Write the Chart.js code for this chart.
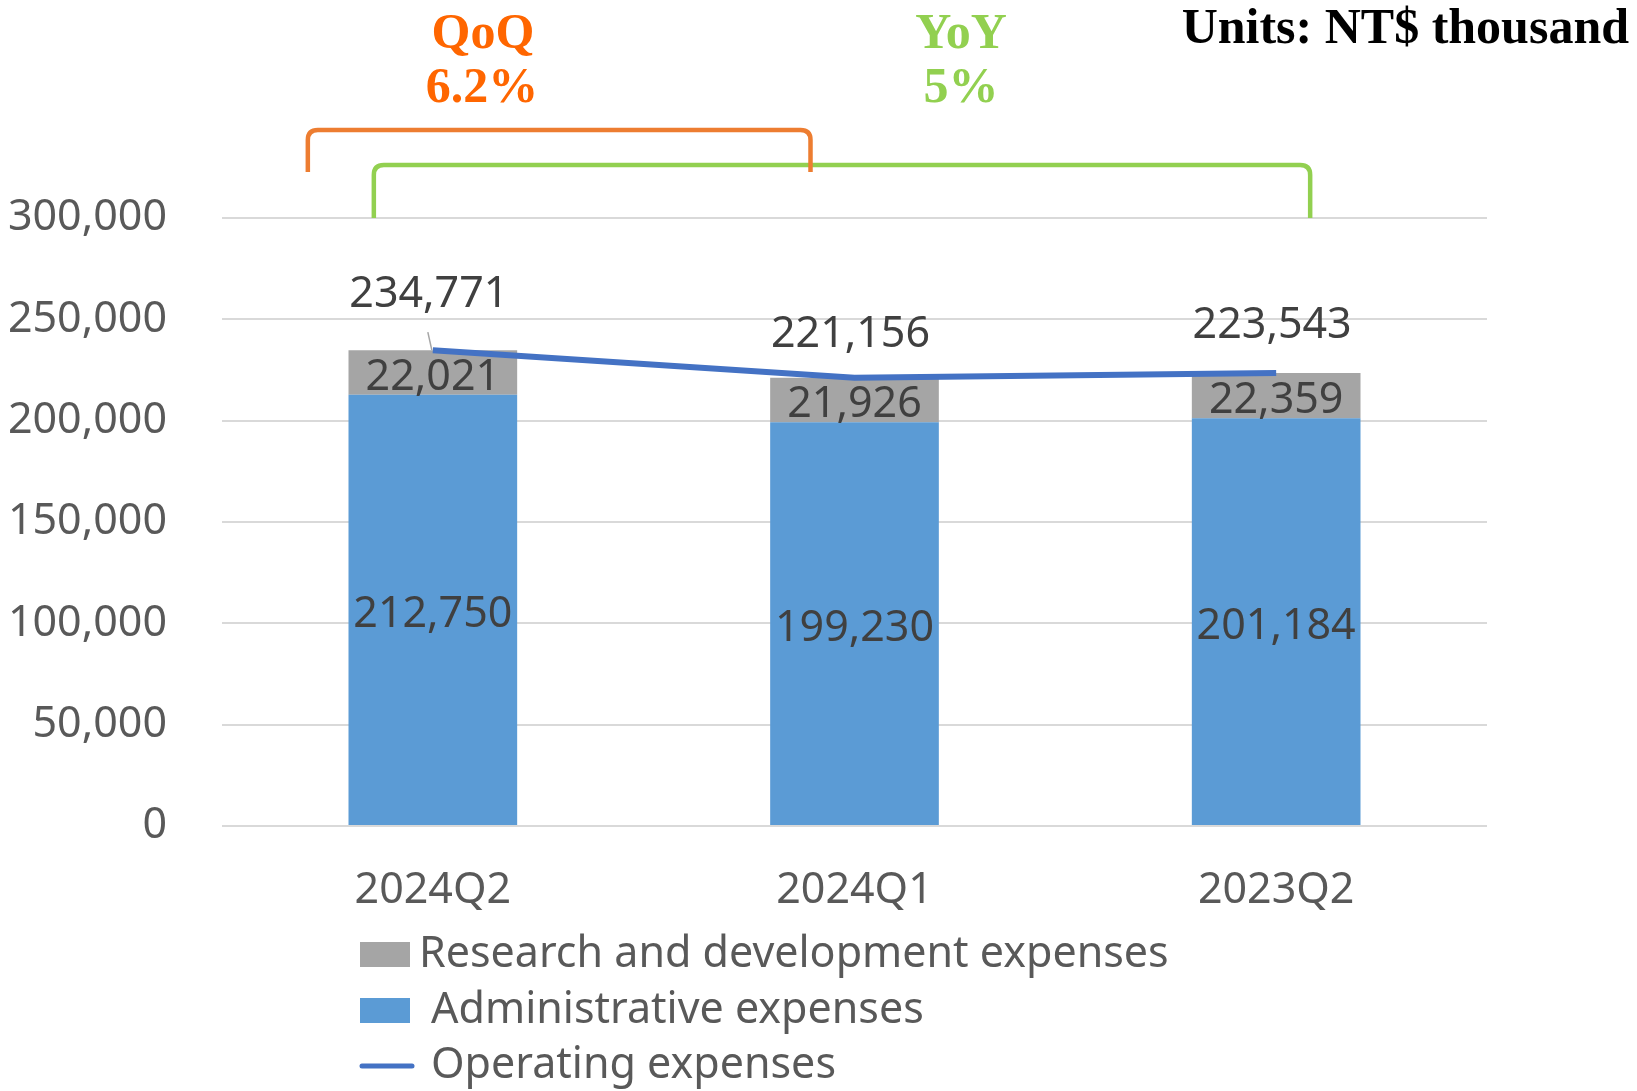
<!DOCTYPE html>
<html>
<head>
<meta charset="utf-8">
<script src="https://cdn.jsdelivr.net/npm/chart.js@4/dist/chart.umd.min.js"></script>
<style>
  html, body { margin: 0; padding: 0; background: #fff; }
</style>
</head>
<body>
<canvas id="chart" width="1637" height="1091"></canvas>
<script>
// values (NT$ thousand)
const quarters = ['2024Q2', '2024Q1', '2023Q2'];
const adminExpenses = [212750, 199230, 201184];
const rdExpenses = [22021, 21926, 22359];
const operatingExpenses = [234771, 221156, 223543];
const seriesNames = ['Research and development expenses', 'Administrative expenses', 'Operating expenses'];
const qoqText = ['QoQ', '6.2%'];
const yoyText = ['YoY', '5%'];
const unitsText = 'Units: NT$ thousand';

const SANS = '"Noto Sans", sans-serif';
const SERIF = '"Liberation Serif", serif';
const fmt = (v) => v.toLocaleString('en-US');

// lift of the line labels above their points (label was nudged in the original)
const lineLabelLift = [43, 31, 35];

const labelsPlugin = {
  id: 'valueLabels',
  afterDatasetsDraw(chart) {
    const { ctx } = chart;
    ctx.save();
    ctx.font = `43px ${SANS}`;
    ctx.fillStyle = '#404040';
    ctx.textAlign = 'center';
    chart.data.datasets.forEach((ds, di) => {
      const meta = chart.getDatasetMeta(di);
      meta.data.forEach((el, i) => {
        if (ds.type === 'line') {
          ctx.textBaseline = 'alphabetic';
          ctx.fillText(fmt(ds.data[i]), el.x - 4, el.y - lineLabelLift[i]);
          if (i === 0) {
            // leader line from label to point
            ctx.save();
            ctx.strokeStyle = '#A6A6A6';
            ctx.lineWidth = 1.5;
            ctx.beginPath();
            ctx.moveTo(el.x - 5, el.y - 18);
            ctx.lineTo(el.x - 1, el.y);
            ctx.stroke();
            ctx.restore();
          }
        } else {
          ctx.textBaseline = 'middle';
          ctx.fillText(fmt(ds.data[i]), el.x, (el.y + el.base) / 2 + 5);
        }
      });
    });
    ctx.restore();
  },
};

const drawBracket = (ctx, x1, x2, yTop, yBottom, color) => {
  const r = 10;
  ctx.strokeStyle = color;
  ctx.lineWidth = 4.5;
  ctx.beginPath();
  ctx.moveTo(x1, yBottom);
  ctx.lineTo(x1, yTop + r);
  ctx.quadraticCurveTo(x1, yTop, x1 + r, yTop);
  ctx.lineTo(x2 - r, yTop);
  ctx.quadraticCurveTo(x2, yTop, x2, yTop + r);
  ctx.lineTo(x2, yBottom);
  ctx.stroke();
};

const annotationsPlugin = {
  id: 'annotations',
  afterDraw(chart) {
    const { ctx, chartArea } = chart;
    const x = chart.scales.x;
    const c0 = x.getPixelForValue(0);
    const c1 = x.getPixelForValue(1);
    const c2 = x.getPixelForValue(2);
    ctx.save();
    // YoY bracket under, QoQ bracket over
    drawBracket(ctx, c0 - 59, c2 + 34, 165, chartArea.top, '#92D050');
    drawBracket(ctx, c0 - 125, c1 - 44, 130, 172, '#ED7D31');

    ctx.textAlign = 'center';
    ctx.textBaseline = 'alphabetic';
    ctx.font = `bold 50px ${SERIF}`;
    ctx.fillStyle = '#FF6600';
    ctx.fillText(qoqText[0], 483, 48);
    ctx.fillText(qoqText[1], 482, 102);
    ctx.fillStyle = '#92D050';
    ctx.fillText(yoyText[0], 961, 48);
    ctx.fillText(yoyText[1], 961, 102);
    ctx.fillStyle = '#000';
    ctx.textAlign = 'right';
    ctx.fillText(unitsText, 1629, 43);

    // legend, one entry per row
    const rows = [
      { label: seriesNames[0], color: '#A5A5A5', kind: 'box', y: 955 },
      { label: seriesNames[1], color: '#5B9BD5', kind: 'box', y: 1011 },
      { label: seriesNames[2], color: '#4472C4', kind: 'line', y: 1066 },
    ];
    ctx.font = `43px ${SANS}`;
    ctx.textAlign = 'left';
    ctx.textBaseline = 'middle';
    rows.forEach((row, i) => {
      if (row.kind === 'box') {
        ctx.fillStyle = row.color;
        ctx.fillRect(360, row.y - 13, 50, 25);
      } else {
        ctx.strokeStyle = row.color;
        ctx.lineWidth = 5;
        ctx.lineCap = 'round';
        ctx.beginPath();
        ctx.moveTo(362, row.y);
        ctx.lineTo(412, row.y);
        ctx.stroke();
      }
      ctx.fillStyle = '#595959';
      ctx.fillText(row.label, i === 0 ? 419 : 431, row.y);
    });
    ctx.restore();
  },
};

const chart = new Chart(document.getElementById('chart'), {
  data: {
    labels: quarters,
    datasets: [
      {
        type: 'bar',
        label: seriesNames[1],
        data: adminExpenses,
        backgroundColor: '#5B9BD5',
        stack: 'exp',
        order: 1,
        barPercentage: 0.4,
        categoryPercentage: 1,
      },
      {
        type: 'bar',
        label: seriesNames[0],
        data: rdExpenses,
        backgroundColor: '#A5A5A5',
        stack: 'exp',
        order: 1,
        barPercentage: 0.4,
        categoryPercentage: 1,
      },
      {
        type: 'line',
        label: seriesNames[2],
        data: operatingExpenses,
        borderColor: '#4472C4',
        borderWidth: 6,
        pointRadius: 0,
        stack: 'total',
        order: 0,
        tension: 0,
      },
    ],
  },
  options: {
    responsive: false,
    animation: false,
    layout: {
      padding: { top: 218, right: 150, bottom: 165, left: 0 },
    },
    scales: {
      x: {
        stacked: true,
        grid: { display: false },
        border: { display: false },
        ticks: {
          padding: 31,
          color: '#595959',
          font: { family: SANS, size: 43 },
        },
        afterFit(scale) { scale.height = 100; },
      },
      y: {
        stacked: true,
        min: 0,
        max: 300000,
        grid: { color: '#D9D9D9', lineWidth: 2, drawTicks: false },
        border: { display: false },
        ticks: {
          stepSize: 50000,
          padding: 55,
          color: '#595959',
          font: { family: SANS, size: 43 },
          callback: (v) => fmt(v),
        },
        afterFit(scale) { scale.width = 222; },
      },
    },
    plugins: {
      legend: { display: false },
      tooltip: { enabled: false },
    },
  },
  plugins: [labelsPlugin, annotationsPlugin],
});
</script>
</body>
</html>
